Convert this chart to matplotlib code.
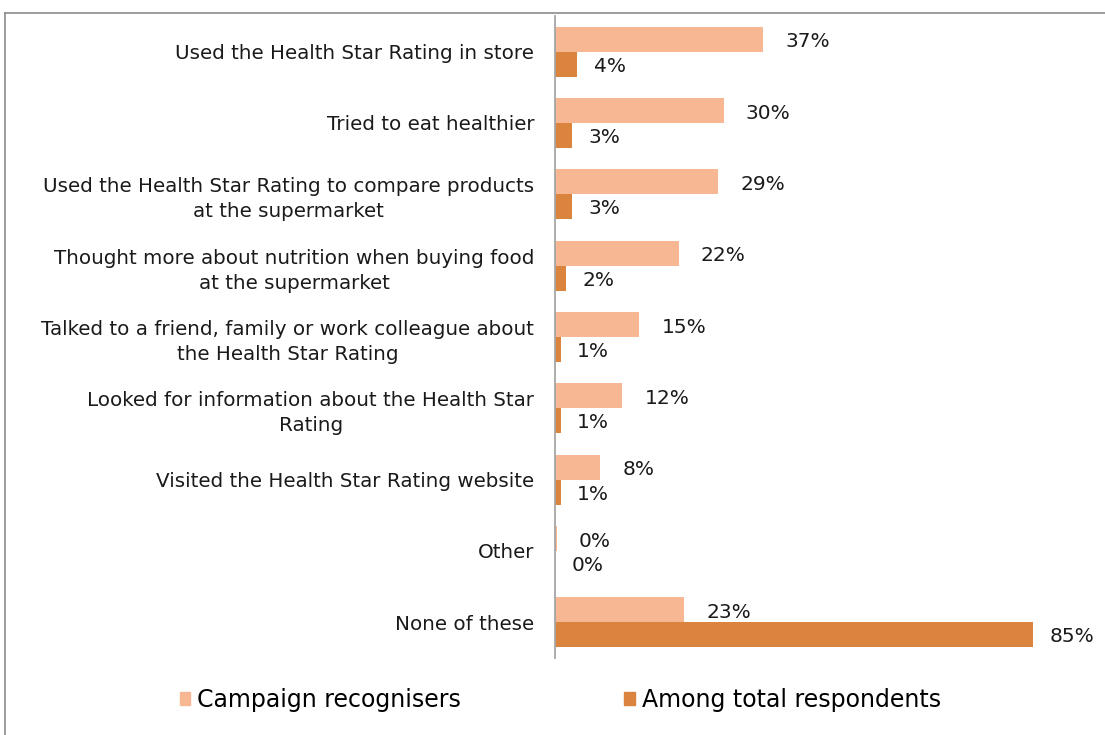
import matplotlib
matplotlib.use("Agg")
import matplotlib.pyplot as plt
from matplotlib.lines import Line2D
from matplotlib.patches import Patch
import numpy as np

categories = [
    "Used the Health Star Rating in store",
    "Tried to eat healthier",
    "Used the Health Star Rating to compare products\nat the supermarket",
    "Thought more about nutrition when buying food\nat the supermarket",
    "Talked to a friend, family or work colleague about\nthe Health Star Rating",
    "Looked for information about the Health Star\nRating",
    "Visited the Health Star Rating website",
    "Other",
    "None of these",
]
campaign = [37, 30, 29, 22, 15, 12, 8, 0.3, 23]
campaign_labels = ["37%", "30%", "29%", "22%", "15%", "12%", "8%", "0%", "23%"]
total = [4, 3, 3, 2, 1, 1, 1, 0, 85]
total_labels = ["4%", "3%", "3%", "2%", "1%", "1%", "1%", "0%", "85%"]
series_names = ["Campaign recognisers", "Among total respondents"]

c_light = "#F8B793"
c_dark = "#DB843D"

W, H = 1105, 735
fig = plt.figure(figsize=(W / 100, H / 100), dpi=100)
plt.rcParams['font.family'] = ['DejaVu Sans']

ax_l, ax_r, ax_t, ax_b = 555, 1061, 16, 658
ax = fig.add_axes([ax_l / W, 1 - ax_b / H, (ax_r - ax_l) / W, (ax_b - ax_t) / H])

y = np.arange(len(categories))
h = 0.35
ax.barh(y - h / 2, campaign, height=h, color=c_light)
ax.barh(y + h / 2, total, height=h, color=c_dark)
ax.set_xlim(0, 90)
ax.set_ylim(len(categories) - 0.5, -0.5)

for i in range(len(categories)):
    ax.annotate(campaign_labels[i], (campaign[i], y[i] - h / 2), xytext=(16, -2),
                textcoords="offset points", va="center", ha="left", fontsize=14.5, color="#1a1a1a")
    ax.annotate(total_labels[i], (total[i], y[i] + h / 2), xytext=(12, -1.5),
                textcoords="offset points", va="center", ha="left", fontsize=14.5, color="#1a1a1a")

ax.set_yticks(y)
ax.set_yticklabels(categories, fontsize=14.3, color="#1a1a1a", linespacing=1.4)
for lbl in ax.get_yticklabels():
    lbl.set_multialignment("center")
ax.tick_params(axis="y", length=0, pad=15)
ax.set_xticks([])
for s in ["top", "right", "bottom"]:
    ax.spines[s].set_visible(False)
ax.spines["left"].set_color("#a6a6a6")
ax.spines["left"].set_linewidth(1.3)

# outer frame (partially cropped)
fig.add_artist(Line2D([5 / W, 5 / W], [0, 1 - 13 / H], color="#8c8c8c", lw=1.2,
                      transform=fig.transFigure))
fig.add_artist(Line2D([5 / W, 1], [1 - 13 / H, 1 - 13 / H], color="#8c8c8c", lw=1.2,
                      transform=fig.transFigure))

handles = [Patch(color=c_light), Patch(color=c_dark)]
fig.legend(handles, series_names, loc="center", bbox_to_anchor=(0.507, 1 - 700 / H),
           ncol=2, frameon=False, fontsize=17, handlelength=0.45, handleheight=0.45,
           handletextpad=0.3, columnspacing=6.9)

fig.savefig("out.png", dpi=100)
